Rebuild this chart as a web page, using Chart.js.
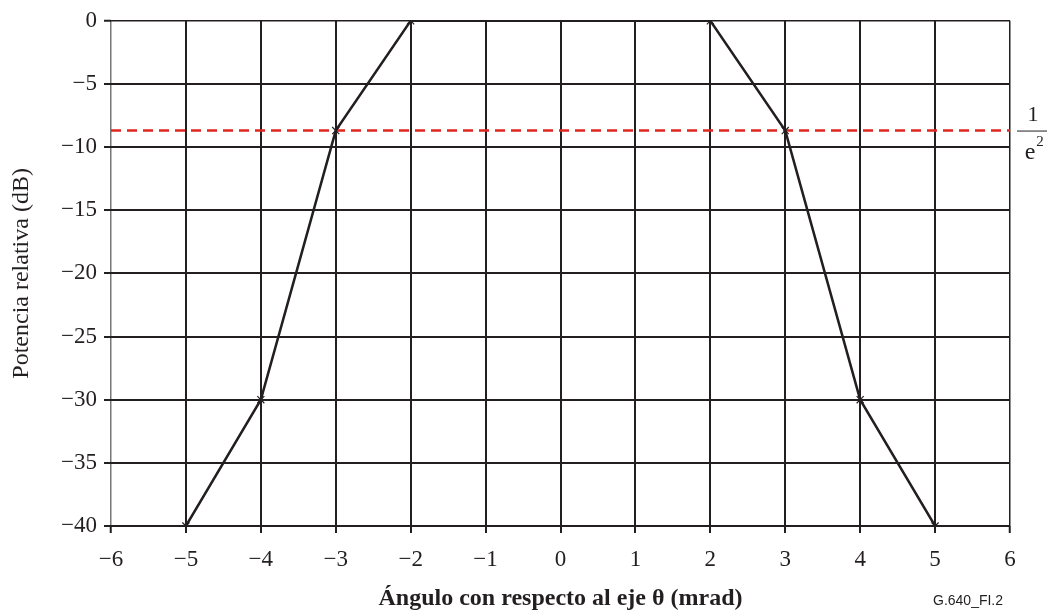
<!DOCTYPE html>
<html>
<head>
<meta charset="utf-8">
<script src="https://cdn.jsdelivr.net/npm/chart.js@4.4.0/dist/chart.umd.min.js"></script>
<style>
  body { margin: 0; background: #fff; }
  canvas { display: block; }
</style>
</head>
<body>
<canvas id="chart" width="1047" height="615"></canvas>
<script>
// angle (mrad) vs relative power (dB)
var angles = [-5, -4, -3, -2, 2, 3, 4, 5];
var power = [-40, -30, -8.69, 0, 0, -8.69, -30, -40];
// 1/e^2 level
var levelX = [-6, 6];
var levelY = [-8.69, -8.69];

var xTitle = 'Ángulo con respecto al eje θ (mrad)';
var yTitle = 'Potencia relativa (dB)';
var figId = 'G.640_FI.2';

var serif = '"Liberation Serif", "Times New Roman", serif';

function toPoints(xs, ys) {
    return xs.map(function (x, i) { return { x: x, y: ys[i] }; });
}

function dashMinus(v) {
    return String(v).replace('-', '\u2212');
}

// extra text: 1/e^2 label at the right and figure id
var extraText = {
    id: 'extraText',
    afterDraw: function (chart) {
        var ctx = chart.ctx;
        var yPix = chart.scales.y.getPixelForValue(levelY[1]);
        ctx.save();
        ctx.fillStyle = '#231f20';
        ctx.textAlign = 'center';
        ctx.textBaseline = 'middle';
        ctx.font = '22px ' + serif;
        ctx.fillText('1', 1033, yPix - 15);
        ctx.font = '24px ' + serif;
        ctx.fillText('e', 1030, yPix + 22);
        ctx.font = '15px ' + serif;
        ctx.fillText('2', 1040, yPix + 12);
        ctx.strokeStyle = '#231f20';
        ctx.lineWidth = 1;
        ctx.beginPath();
        ctx.moveTo(1017, yPix + 0.5);
        ctx.lineTo(1047, yPix + 0.5);
        ctx.stroke();
        ctx.font = '14px "Liberation Sans", Arial, sans-serif';
        ctx.textAlign = 'left';
        ctx.fillText(figId, 933, 601);
        ctx.restore();
    }
};

var ctx = document.getElementById('chart').getContext('2d');
var chart = new Chart(ctx, {
    type: 'scatter',
    data: {
        datasets: [{
            data: toPoints(angles, power),
            showLine: true,
            borderColor: '#231f20',
            borderWidth: 2.5,
            pointStyle: 'crossRot',
            pointRadius: 5,
            pointBorderWidth: 1.2,
            pointBorderColor: '#231f20',
            pointBackgroundColor: '#231f20',
            order: 1
        }, {
            data: toPoints(levelX, levelY),
            showLine: true,
            borderColor: '#e0261f',
            borderWidth: 2.5,
            borderDash: [10, 6],
            pointRadius: 0,
            order: 2
        }]
    },
    options: {
        responsive: false,
        animation: false,
        layout: { padding: { top: 20, right: 37, left: 0, bottom: 0 } },
        plugins: {
            legend: { display: false },
            tooltip: { enabled: false }
        },
        scales: {
            x: {
                type: 'linear',
                min: -6,
                max: 6,
                afterFit: function (scale) { scale.height = 89; },
                ticks: {
                    stepSize: 1,
                    padding: 13,
                    color: '#231f20',
                    font: { family: serif, size: 23 },
                    callback: function (v) { return dashMinus(v); }
                },
                grid: {
                    color: function (c) { return c.tick && c.tick.value === -6 ? '#777' : '#231f20'; },
                    lineWidth: function (c) { return c.tick && (c.tick.value === -6 || c.tick.value === 6) ? 1.5 : 2; },
                    tickColor: '#231f20',
                    tickWidth: 2,
                    tickLength: 7
                },
                border: { display: false },
                title: {
                    display: true,
                    text: xTitle,
                    color: '#231f20',
                    font: { family: serif, size: 24, weight: 'bold' },
                    padding: { bottom: 2, top: 0 }
                }
            },
            y: {
                min: -40,
                max: 0,
                afterFit: function (scale) { scale.width = 111; },
                ticks: {
                    stepSize: 5,
                    padding: 7,
                    color: '#231f20',
                    font: { family: serif, size: 23 },
                    callback: function (v) { return dashMinus(v); }
                },
                grid: {
                    color: '#231f20',
                    lineWidth: function (c) { return c.tick && c.tick.value === 0 ? 1.5 : 2; },
                    tickColor: '#231f20',
                    tickWidth: 2,
                    tickLength: 7
                },
                border: { display: false },
                title: {
                    display: true,
                    text: yTitle,
                    color: '#231f20',
                    font: { family: serif, size: 24 },
                    padding: { top: 7, bottom: 0 }
                }
            }
        }
    },
    plugins: [extraText]
});
</script>
</body>
</html>
